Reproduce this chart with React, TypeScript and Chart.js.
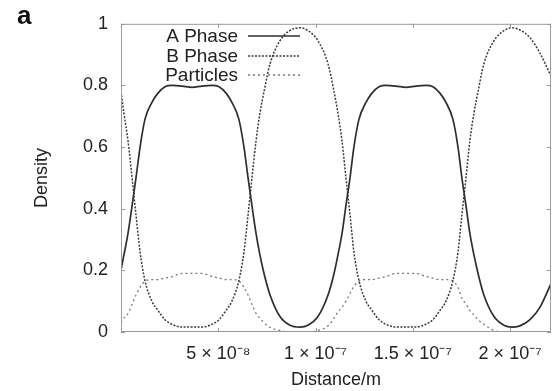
import React, { useEffect, useRef } from 'react';
import { Chart, registerables } from 'chart.js';

Chart.register(...registerables);

// Distance along the sample, in nanometres (1e-9 m)
const distanceNm = [
  0.0, 1.5, 3.6, 5.7, 7.7, 9.8, 12.3, 15.9, 19.0, 22.6, 26.2, 31.4, 36.5, 41.6, 46.8, 50.4,
  54.0, 57.0, 60.6, 63.2, 65.3, 67.3, 69.4, 71.4, 73.5, 76.6, 81.7, 86.8, 92.0, 96.1, 101.2,
  106.4, 109.5, 111.5, 113.6, 115.6, 117.7, 119.7, 122.3, 125.9, 129.0, 132.6, 136.2, 141.3,
  146.5, 151.6, 156.7, 160.3, 163.9, 167.0, 170.6, 173.2, 175.2, 177.3, 179.3, 181.4, 183.5,
  186.5, 191.7, 196.8, 200.9, 205.0, 210.2, 215.3, 221.0,
];

const aPhase = [
  0.2, 0.25, 0.32, 0.41, 0.5, 0.6, 0.69, 0.745, 0.775, 0.796, 0.8, 0.798, 0.794, 0.798, 0.8, 0.796,
  0.775, 0.745, 0.69, 0.6, 0.5, 0.41, 0.32, 0.25, 0.19, 0.12, 0.05, 0.022, 0.016, 0.022, 0.05,
  0.12, 0.19, 0.25, 0.32, 0.41, 0.5, 0.6, 0.69, 0.745, 0.775, 0.796, 0.8, 0.798,
  0.794, 0.798, 0.8, 0.796, 0.775, 0.745, 0.69, 0.6, 0.5, 0.41, 0.32, 0.25, 0.19,
  0.12, 0.05, 0.022, 0.016, 0.02, 0.04, 0.08, 0.157,
];

const bPhase = [
  0.78, 0.71, 0.62, 0.5, 0.38, 0.26, 0.167, 0.1, 0.07, 0.04, 0.025, 0.016, 0.016, 0.016, 0.025, 0.04,
  0.07, 0.1, 0.167, 0.26, 0.38, 0.5, 0.62, 0.71, 0.78, 0.87, 0.945, 0.978, 0.987, 0.978, 0.945,
  0.87, 0.78, 0.71, 0.62, 0.5, 0.38, 0.26, 0.167, 0.1, 0.07, 0.04, 0.025, 0.016,
  0.016, 0.016, 0.025, 0.04, 0.07, 0.1, 0.167, 0.26, 0.38, 0.5, 0.62, 0.71, 0.78,
  0.87, 0.945, 0.978, 0.987, 0.98, 0.955, 0.905, 0.83,
];

const particles = [
  0.03, 0.045, 0.06, 0.09, 0.12, 0.145, 0.165, 0.17, 0.17, 0.175, 0.18, 0.19, 0.19, 0.19, 0.18, 0.175,
  0.17, 0.17, 0.165, 0.145, 0.12, 0.09, 0.06, 0.045, 0.03, 0.015, 0.005, 0, 0, 0, 0.005,
  0.02, 0.045, 0.065, 0.08, 0.1, 0.125, 0.148, 0.165, 0.17, 0.17, 0.175, 0.18, 0.19,
  0.19, 0.19, 0.18, 0.175, 0.17, 0.17, 0.165, 0.145, 0.11, 0.09, 0.07, 0.055, 0.04,
  0.025, 0.005, 0, 0, 0, 0, 0, 0,
];

const seriesLabels = ['A Phase', 'B Phase', 'Particles'];
const xTickValues = [50, 100, 150, 200];
const xTickLabels = ['5 × 10⁻⁸', '1 × 10⁻⁷', '1.5 × 10⁻⁷', '2 × 10⁻⁷'];
const yTickValues = [0, 0.2, 0.4, 0.6, 0.8, 1];
const yTickLabels = ['0', '0.2', '0.4', '0.6', '0.8', '1'];
const xAxisTitle = 'Distance/m';
const yAxisTitle = 'Density';
const panelLabel = 'a';

const FONT = '"Liberation Sans", Arial, Helvetica, sans-serif';
const TEXT = '#222';

const styles = [
  { color: '#2e2e2e', width: 1.7, dash: [] as number[] },
  { color: '#3a3a3a', width: 1.5, dash: [2, 1.5] },
  { color: '#777', width: 1.3, dash: [2, 3] },
];

export default function App() {
  const ref = useRef<HTMLCanvasElement>(null);

  useEffect(() => {
    const canvas = ref.current!;
    const series = [aPhase, bPhase, particles];

    const decor = {
      id: 'decor',
      afterDatasetsDraw(chart: any) {
        const { ctx, chartArea: a, scales } = chart;
        ctx.save();
        ctx.strokeStyle = '#999';
        ctx.lineWidth = 1;
        ctx.setLineDash([]);
        ctx.strokeRect(a.left + 0.5, a.top + 0.5, a.right - a.left - 1, a.bottom - a.top - 1);
        const tl = 4;
        ctx.beginPath();
        for (const v of yTickValues) {
          const y = Math.round(scales.y.getPixelForValue(v)) + 0.5;
          ctx.moveTo(a.left, y);
          ctx.lineTo(a.left + tl, y);
          ctx.moveTo(a.right, y);
          ctx.lineTo(a.right - tl, y);
        }
        for (const v of xTickValues) {
          const x = Math.round(scales.x.getPixelForValue(v)) + 0.5;
          ctx.moveTo(x, a.bottom);
          ctx.lineTo(x, a.bottom - tl);
          ctx.moveTo(x, a.top);
          ctx.lineTo(x, a.top + tl);
        }
        ctx.stroke();

        // key
        const rows = [36, 56, 75];
        ctx.font = `19px ${FONT}`;
        ctx.textAlign = 'right';
        ctx.textBaseline = 'middle';
        chart.data.datasets.forEach((ds: any, i: number) => {
          const y = rows[i];
          ctx.fillStyle = TEXT;
          ctx.fillText(ds.label, 238, y + 1);
          ctx.strokeStyle = styles[i].color;
          ctx.lineWidth = styles[i].width;
          ctx.setLineDash(styles[i].dash);
          ctx.beginPath();
          ctx.moveTo(248, y);
          ctx.lineTo(300, y);
          ctx.stroke();
        });
        ctx.setLineDash([]);

        // panel label
        ctx.font = `bold 26px ${FONT}`;
        ctx.textAlign = 'left';
        ctx.textBaseline = 'alphabetic';
        ctx.fillStyle = '#111';
        ctx.fillText(panelLabel, 17, 24);
        ctx.restore();
      },
    };

    const chart = new Chart(canvas, {
      type: 'line',
      data: {
        datasets: series.map((vals, i) => ({
          label: seriesLabels[i],
          data: distanceNm.map((x, j) => ({ x, y: vals[j] })),
          borderColor: styles[i].color,
          borderWidth: styles[i].width,
          borderDash: styles[i].dash,
          pointRadius: 0,
          fill: false,
          cubicInterpolationMode: 'monotone' as const,
        })),
      },
      options: {
        responsive: false,
        devicePixelRatio: 1,
        animation: false,
        layout: { padding: { top: 21, right: 5, left: 0, bottom: 0 } },
        plugins: { legend: { display: false }, tooltip: { enabled: false } },
        scales: {
          x: {
            type: 'linear',
            min: 0,
            max: 221,
            grid: { display: false, drawTicks: false },
            border: { display: false },
            afterBuildTicks: (s: any) => {
              s.ticks = xTickValues.map((v) => ({ value: v }));
            },
            afterFit: (s: any) => {
              s.height = 59;
            },
            ticks: {
              autoSkip: false,
              maxRotation: 0,
              padding: 11,
              color: TEXT,
              font: { family: FONT, size: 18 },
              callback: (_v: any, i: number) => xTickLabels[i],
            },
            title: {
              display: true,
              text: xAxisTitle,
              color: TEXT,
              font: { family: FONT, size: 18, lineHeight: 1.2 },
              padding: { top: 0, bottom: 0 },
            },
          },
          y: {
            type: 'linear',
            min: 0,
            max: 1,
            grid: { display: false, drawTicks: false },
            border: { display: false },
            afterBuildTicks: (s: any) => {
              s.ticks = yTickValues.map((v) => ({ value: v }));
            },
            afterFit: (s: any) => {
              s.width = 121;
            },
            ticks: {
              padding: 13,
              color: TEXT,
              font: { family: FONT, size: 18 },
              callback: (_v: any, i: number) => yTickLabels[i],
            },
            title: {
              display: true,
              text: yAxisTitle,
              color: TEXT,
              font: { family: FONT, size: 18, lineHeight: 1.2 },
              padding: { top: 31, bottom: 0 },
            },
          },
        },
      },
      plugins: [decor],
    });

    return () => chart.destroy();
  }, []);

  return (
    <div style={{ position: 'absolute', left: 0, top: 0, width: 556, height: 391, background: '#fff' }}>
      <canvas ref={ref} width={556} height={391} style={{ display: 'block', width: 556, height: 391 }} />
    </div>
  );
}
